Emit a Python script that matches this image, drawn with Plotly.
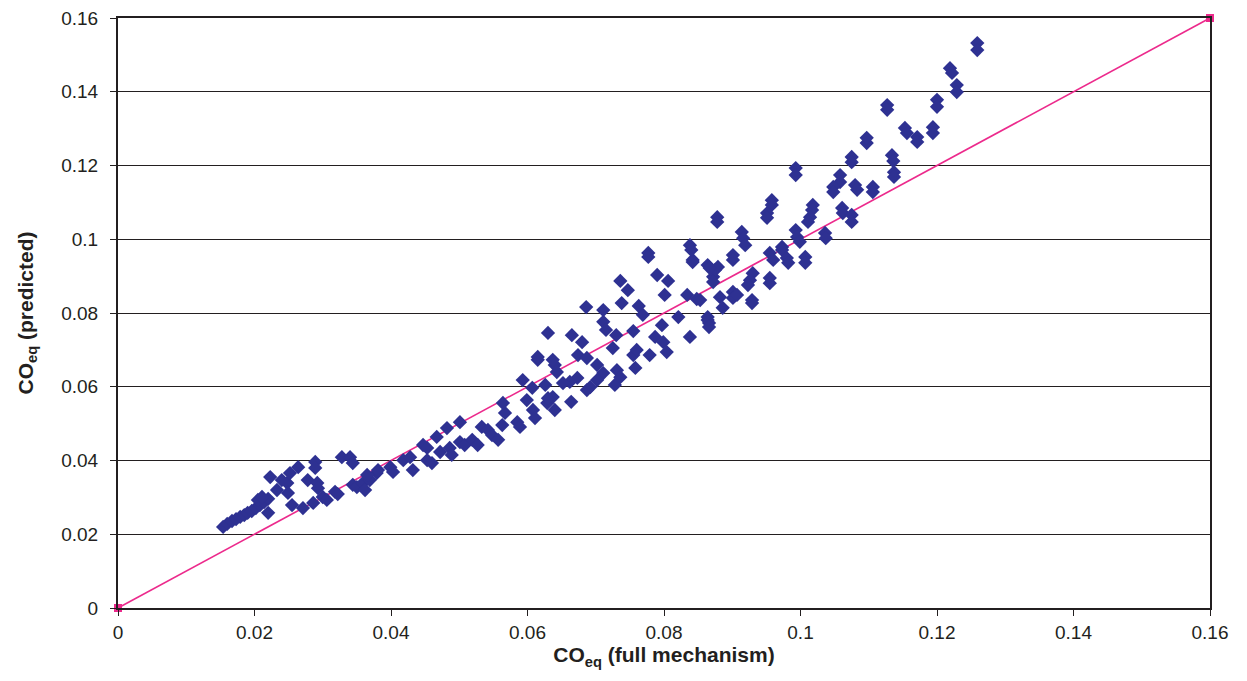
import plotly.graph_objects as go

# CO_eq values
co_full = [
    0.0154, 0.0160, 0.0167, 0.0173, 0.0179, 0.0185, 0.0190, 0.0196, 0.0202, 0.0208,
    0.0214, 0.0220, 0.0220, 0.0223, 0.0233, 0.0248, 0.0252, 0.0264, 0.0249, 0.0255,
    0.0289, 0.0289, 0.0278, 0.0292, 0.0293, 0.0328, 0.0340, 0.0344, 0.0271, 0.0286,
    0.0300, 0.0306, 0.0318, 0.0322, 0.0344, 0.0350, 0.0359, 0.0362, 0.0369, 0.0379,
    0.0205, 0.0211, 0.0240,
    0.0365, 0.0381, 0.0399, 0.0418, 0.0428, 0.0447, 0.0453, 0.0467, 0.0482, 0.0501,
    0.0453, 0.0460, 0.0472, 0.0486, 0.0489, 0.0501, 0.0508, 0.0519, 0.0527, 0.0533,
    0.0542, 0.0548, 0.0557, 0.0563, 0.0567, 0.0564, 0.0585, 0.0589, 0.0593, 0.0607,
    0.0599, 0.0608, 0.0611, 0.0626, 0.0629, 0.0637, 0.0640, 0.0640, 0.0615, 0.0403, 0.0432,
    0.0686, 0.0711, 0.0711, 0.0715, 0.0730, 0.0725, 0.0736, 0.0747, 0.0738, 0.0763,
    0.0769, 0.0755, 0.0790, 0.0806, 0.0801, 0.0821, 0.0834, 0.0848, 0.0864, 0.0866,
    0.0838, 0.0797, 0.0787, 0.0799, 0.0804, 0.0755, 0.0760, 0.0758, 0.0779, 0.0731,
    0.0728, 0.0736, 0.0711, 0.0702, 0.0692, 0.0687, 0.0673, 0.0662, 0.0664, 0.0652,
    0.0630, 0.0665, 0.0680, 0.0615, 0.0637, 0.0643, 0.0674, 0.0687, 0.0702, 0.0630,
    0.0882, 0.0886, 0.0872, 0.0879, 0.0864, 0.0842,
    0.0777, 0.0777, 0.0838, 0.0840, 0.0842, 0.0875,
    0.1097, 0.1075, 0.1075, 0.1134, 0.1136, 0.1137, 0.1137, 0.0993, 0.0993, 0.1058,
    0.1058, 0.1048, 0.1048, 0.1080, 0.1083, 0.1106, 0.1106, 0.0958, 0.0958, 0.0951,
    0.0951, 0.0878, 0.0878, 0.1018, 0.1017, 0.1014, 0.1011, 0.1061, 0.1062, 0.1075,
    0.1075, 0.0914, 0.0916, 0.0919, 0.0993, 0.0995, 0.0999, 0.1036, 0.1037, 0.0973,
    0.0973, 0.0955, 0.0960, 0.0980, 0.0982, 0.1007, 0.1007, 0.0901, 0.0901, 0.0867,
    0.0872, 0.0930, 0.0926, 0.0923, 0.0955, 0.0955, 0.0901, 0.0901, 0.0907, 0.0929,
    0.0929, 0.0864, 0.0866, 0.0853,
    0.1259, 0.1259, 0.1219, 0.1222, 0.1229, 0.1229, 0.1127, 0.1127, 0.1200, 0.1200,
    0.1097, 0.1153, 0.1156, 0.1171, 0.1171, 0.1194, 0.1194,
]
co_pred = [
    0.0220, 0.0228, 0.0236, 0.0241, 0.0247, 0.0252, 0.0258, 0.0263, 0.0271, 0.0279,
    0.0287, 0.0296, 0.0258, 0.0355, 0.0320, 0.0339, 0.0366, 0.0382, 0.0312, 0.0279,
    0.0396, 0.0380, 0.0347, 0.0339, 0.0325, 0.0409, 0.0409, 0.0393, 0.0271, 0.0285,
    0.0301, 0.0293, 0.0315, 0.0309, 0.0334, 0.0328, 0.0339, 0.0320, 0.0347, 0.0366,
    0.0293, 0.0301, 0.0347,
    0.0361, 0.0374, 0.0382, 0.0401, 0.0409, 0.0442, 0.0434, 0.0464, 0.0488, 0.0504,
    0.0401, 0.0393, 0.0423, 0.0434, 0.0415, 0.0450, 0.0442, 0.0456, 0.0442, 0.0491,
    0.0483, 0.0469, 0.0456, 0.0496, 0.0529, 0.0556, 0.0504, 0.0491, 0.0618, 0.0597,
    0.0564, 0.0537, 0.0515, 0.0605, 0.0556, 0.0572, 0.0537, 0.0659, 0.0673, 0.0369, 0.0374,
    0.0816, 0.0808, 0.0776, 0.0754, 0.0740, 0.0705, 0.0887, 0.0862, 0.0827, 0.0819,
    0.0795, 0.0751, 0.0903, 0.0887, 0.0849, 0.0789, 0.0849, 0.0838, 0.0789, 0.0773,
    0.0735, 0.0767, 0.0735, 0.0721, 0.0694, 0.0686, 0.0700, 0.0651, 0.0686, 0.0645,
    0.0605, 0.0626, 0.0637, 0.0618, 0.0599, 0.0591, 0.0624, 0.0613, 0.0559, 0.0610,
    0.0746, 0.0740, 0.0721, 0.0681, 0.0673, 0.0640, 0.0686, 0.0678, 0.0659, 0.0569,
    0.0843, 0.0814, 0.0898, 0.0925, 0.0930, 0.0944,
    0.0963, 0.0952, 0.0984, 0.0971, 0.0938, 0.0917,
    0.1261, 0.1223, 0.1209, 0.1228, 0.1212, 0.1182, 0.1169, 0.1193, 0.1174, 0.1174,
    0.1155, 0.1142, 0.1128, 0.1147, 0.1134, 0.1142, 0.1128, 0.1106, 0.1093, 0.1071,
    0.1058, 0.1060, 0.1047, 0.1093, 0.1079, 0.1060, 0.1047, 0.1085, 0.1071, 0.1066,
    0.1047, 0.1020, 0.1003, 0.0984, 0.1025, 0.1006, 0.0993, 0.1017, 0.1003, 0.0979,
    0.0971, 0.0963, 0.0944, 0.0949, 0.0936, 0.0952, 0.0936, 0.0957, 0.0944, 0.0922,
    0.0884, 0.0908, 0.0889, 0.0876, 0.0895, 0.0881, 0.0857, 0.0841, 0.0849, 0.0835,
    0.0827, 0.0781, 0.0762, 0.0835,
    0.1532, 0.1513, 0.1464, 0.1451, 0.1418, 0.1399, 0.1364, 0.1351, 0.1378, 0.1359,
    0.1275, 0.1302, 0.1288, 0.1277, 0.1264, 0.1304, 0.1288,
]

# y = x reference line end points
line_x = [0, 0.16]
line_y = [0, 0.16]

x_ticks = [0, 0.02, 0.04, 0.06, 0.08, 0.1, 0.12, 0.14, 0.16]
x_tick_labels = ["0", "0.02", "0.04", "0.06", "0.08", "0.1", "0.12", "0.14", "0.16"]
y_ticks = x_ticks
y_tick_labels = x_tick_labels

fig = go.Figure()
fig.add_trace(go.Scatter(
    x=line_x, y=line_y, mode="lines+markers",
    line=dict(color="#EC2A8C", width=1.6),
    marker=dict(symbol="square", size=8, color="#EC2A8C"),
    showlegend=False, cliponaxis=False, hoverinfo="skip",
))
fig.add_trace(go.Scatter(
    x=co_full, y=co_pred, mode="markers",
    marker=dict(symbol="diamond", size=11, color="#2E3192",
                line=dict(width=0)),
    showlegend=False, cliponaxis=False,
))

axis_font = dict(family="Liberation Sans, Arial, sans-serif", size=19, color="#231F20")
title_font = dict(family="Liberation Sans, Arial, sans-serif", size=21, color="#231F20")

# the page body adds an 8 px offset, so margins are reduced accordingly
fig.update_layout(
    width=1239, height=673,
    margin=dict(l=110, r=37, t=10, b=73),
    paper_bgcolor="white", plot_bgcolor="white",
    font=axis_font,
    xaxis=dict(
        range=[0, 0.16], tickvals=x_ticks, ticktext=x_tick_labels,
        showgrid=False, zeroline=False, automargin=False,
        showline=True, linecolor="#231F20", linewidth=2, mirror=True,
        ticks="outside", ticklen=6, tickcolor="#231F20", tickwidth=1,
        ticklabeloverflow="allow",
        tickfont=axis_font,
        title=dict(text="<b>CO<sub>eq</sub> (full mechanism)</b>", font=title_font, standoff=6),
    ),
    yaxis=dict(
        range=[0, 0.16], tickvals=y_ticks, ticktext=y_tick_labels,
        showgrid=True, gridcolor="#231F20", gridwidth=1, zeroline=False, automargin=False,
        showline=True, linecolor="#231F20", linewidth=2, mirror=True,
        ticks="outside", ticklen=6, tickcolor="#231F20", tickwidth=1,
        ticklabelstandoff=8, ticklabeloverflow="allow",
        tickfont=axis_font,
        title=dict(text="<b>CO<sub>eq</sub> (predicted)</b>", font=title_font, standoff=22),
    ),
)

fig.write_html("out.html")
